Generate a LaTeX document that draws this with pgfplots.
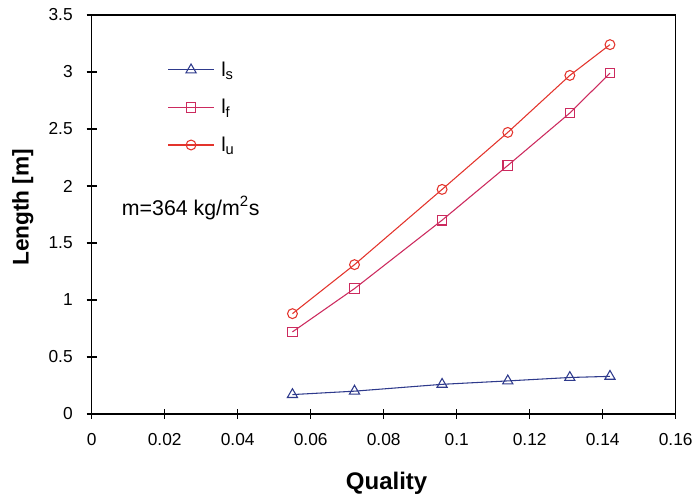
\documentclass[border=0pt]{standalone}
\usepackage{fontspec}
\setmainfont{Liberation Sans}
\usepackage{pgfplots}
\pgfplotsset{compat=1.18}
\definecolor{lsblue}{HTML}{2E3A8C}
\definecolor{lfmag}{HTML}{CC2A5E}
\definecolor{lured}{HTML}{E3342C}
\newcommand{\sub}[1]{\raisebox{-2.6pt}{\fontsize{11}{12}\selectfont #1}}

\begin{document}
\begin{tikzpicture}[x=1pt,y=1pt]
\begin{axis}[scale only axis,width=438pt,height=299.25pt,
 xmin=0,xmax=0.16,ymin=0,ymax=3.5,
 xtick={0,0.02,0.04,0.06,0.08,0.1,0.12,0.14,0.16},
 xticklabels={0,0.02,0.04,0.06,0.08,0.1,0.12,0.14,0.16},
 ytick={0,0.5,1,1.5,2,2.5,3,3.5},
 yticklabels={0,0.5,1,1.5,2,2.5,3,3.5},
 tick pos=left,tick align=center,major tick length=7.5pt,
 axis line style={line width=1.1pt},every tick/.style={black,line width=0.9pt},
 tick label style={font=\fontsize{13}{15}\selectfont},
 xticklabel style={yshift=-7pt},yticklabel style={xshift=-7pt},
 xlabel={\textbf{Quality}},ylabel={\textbf{Length [m]}},
 xlabel style={font=\fontsize{18}{20}\selectfont,at={(axis description cs:0.505,-0.175)},anchor=center},
 ylabel style={font=\fontsize{17}{20}\selectfont,at={(axis description cs:-0.118,0.518)},anchor=center},
 legend style={draw=none,fill=none,at={(axis cs:0.0196,3.14)},anchor=north west,
  font=\fontsize{15}{17}\selectfont,row sep=11.8pt,
  /tikz/every odd column/.append style={column sep=3pt}},
 legend image code/.code={\draw[mark repeat=2,mark phase=2,#1]
  plot coordinates {(0pt,0pt) (17.25pt,0pt) (34.5pt,0pt)};},
 legend cell align=left]
\addplot[color=lsblue,line width=0.8pt,mark=triangle,mark size=4.4pt,mark options={solid,line width=0.8pt}]
 coordinates {(0.055,0.17) (0.072,0.20) (0.096,0.26) (0.114,0.29) (0.131,0.32) (0.142,0.33)};
\addlegendentry{l\sub{s}}
\addplot[color=lfmag,line width=0.8pt,mark=square,mark size=3.6pt,mark options={solid,line width=0.8pt}]
 coordinates {(0.055,0.72) (0.072,1.10) (0.096,1.70) (0.114,2.18) (0.131,2.64) (0.142,2.99)};
\addlegendentry{l\sub{f}}
\addplot[color=lured,line width=0.8pt,mark=o,mark size=3.7pt,mark options={solid,line width=0.8pt}]
 coordinates {(0.055,0.88) (0.072,1.31) (0.096,1.97) (0.114,2.47) (0.131,2.97) (0.142,3.24)};
\addlegendentry{l\sub{u}}
\node[anchor=base west,inner sep=0pt,font=\fontsize{16}{18}\selectfont]
 at (axis cs:0.0082,1.745) {m=364 kg/m\textsuperscript{2}s};
\end{axis}
\pgfresetboundingbox
\path[use as bounding box] (-68.8,-64.5) rectangle (452.5,310.5);
\end{tikzpicture}
\end{document}
